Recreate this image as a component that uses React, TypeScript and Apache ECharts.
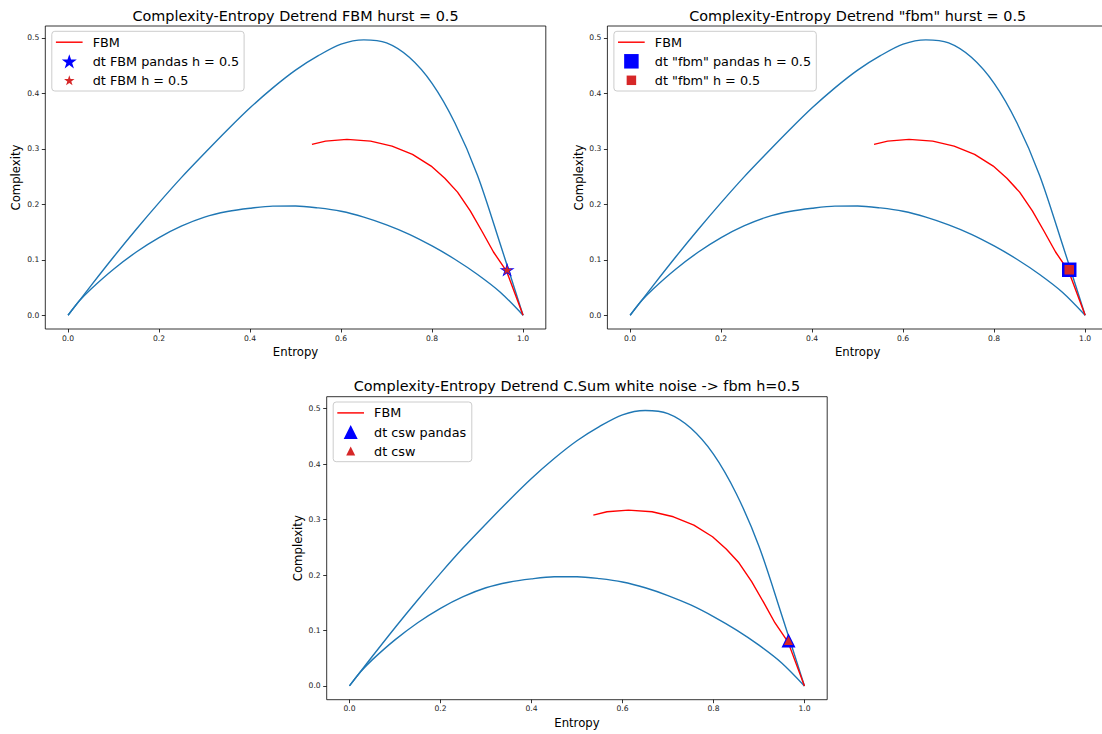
import React, { useEffect, useRef } from 'react';
import * as echarts from 'echarts';

// ---- data ----
const upperH = [0, 0.05, 0.1, 0.15, 0.2, 0.25, 0.3, 0.35, 0.4, 0.45, 0.5, 0.55, 0.6, 0.65, 0.7, 0.75, 0.8, 0.85, 0.9, 0.95, 1.0];
const upperC = [0, 0.053, 0.105, 0.155, 0.203, 0.249, 0.292, 0.334, 0.374, 0.41, 0.442, 0.468, 0.4888, 0.4965, 0.491, 0.465, 0.418, 0.347, 0.252, 0.128, 0];
const lowerH = [0, 0.025, 0.05, 0.1, 0.15, 0.2, 0.25, 0.3, 0.35, 0.4, 0.45, 0.5, 0.55, 0.6, 0.65, 0.7, 0.75, 0.8, 0.85, 0.9, 0.95, 1.0];
const lowerC = [0, 0.026, 0.047, 0.083, 0.114, 0.14, 0.161, 0.177, 0.187, 0.193, 0.1968, 0.197, 0.1935, 0.1875, 0.177, 0.163, 0.146, 0.125, 0.101, 0.0735, 0.0415, 0];
const fbmH = [0.536, 0.566, 0.613, 0.665, 0.712, 0.757, 0.798, 0.828, 0.856, 0.884, 0.91, 0.935, 0.964, 1.0];
const fbmC = [0.308, 0.314, 0.317, 0.314, 0.305, 0.29, 0.269, 0.247, 0.222, 0.188, 0.151, 0.114, 0.079, 0.0];
const dtH = [0.965];
const dtC = [0.082];
const xTicks = [0, 0.2, 0.4, 0.6, 0.8, 1.0];
const yTicks = [0, 0.1, 0.2, 0.3, 0.4, 0.5];
const titles = [
  'Complexity-Entropy Detrend FBM hurst = 0.5',
  'Complexity-Entropy Detrend "fbm" hurst = 0.5',
  'Complexity-Entropy Detrend C.Sum white noise -> fbm h=0.5',
];
const lineName = 'FBM';
const blueNames = ['dt FBM pandas h = 0.5', 'dt "fbm" pandas h = 0.5', 'dt csw pandas'];
const redNames = ['dt FBM h = 0.5', 'dt "fbm" h = 0.5', 'dt csw'];

// ---- layout / style ----
const FONT = '"DejaVu Sans", "Liberation Sans", sans-serif';
const STAR = 'path://M0,-1L0.2245,-0.309L0.951,-0.309L0.3633,0.118L0.5878,0.809L0,0.382L-0.5878,0.809L-0.3633,0.118L-0.951,-0.309L-0.2245,-0.309Z';
const LINE_ICON = 'path://M0,0L26,0L26,1.4L0,1.4Z';
const GW = 500.5;
const GH = 303;
const grids = [
  { left: 45.3, top: 26 },
  { left: 607.4, top: 26 },
  { left: 326.7, top: 396.7 },
];
const legendBoxW = [192.3, 202.4, 138.6];
const markers = [
  { sym: STAR, blue: [15, 14.3], red: [10.5, 10] },
  { sym: 'rect', blue: [14.5, 14.5], red: [9.5, 9.5] },
  { sym: 'triangle', blue: [14, 14], red: [9, 9] },
];
const rowY = [16.2, 35.3, 54.3];

function zip(a: number[], b: number[]) {
  return a.map((v, i) => [v, b[i]]);
}

function buildOption() {
  const grid: any[] = [];
  const xAxis: any[] = [];
  const yAxis: any[] = [];
  const series: any[] = [];
  const legend: any[] = [];
  const graphic: any[] = [];

  grids.forEach((g, i) => {
    grid.push({
      left: g.left, top: g.top, width: GW, height: GH,
      show: true, borderColor: '#000', borderWidth: 0.8, backgroundColor: 'transparent',
      containLabel: false, outerBoundsMode: 'none',
    });
    xAxis.push({
      type: 'value', gridIndex: i, min: -0.05, max: 1.05,
      splitLine: { show: false },
      axisLine: { show: false, onZero: false },
      axisTick: { show: true, length: 3.5, lineStyle: { color: '#000', width: 0.8 }, customValues: xTicks },
      axisLabel: { customValues: xTicks, formatter: (v: number) => v.toFixed(1), fontSize: 7.6, color: '#222', margin: 5, fontFamily: FONT },
      name: 'Entropy', nameLocation: 'middle', nameGap: 22.8, nameMoveOverlap: false,
      nameTextStyle: { fontSize: 11.7, color: '#000', fontFamily: FONT, verticalAlign: 'middle' },
    });
    yAxis.push({
      type: 'value', gridIndex: i, min: -0.0248, max: 0.5215,
      splitLine: { show: false },
      axisLine: { show: false, onZero: false },
      axisTick: { show: true, length: 3.5, lineStyle: { color: '#000', width: 0.8 }, customValues: yTicks },
      axisLabel: { customValues: yTicks, formatter: (v: number) => v.toFixed(1), fontSize: 7.6, color: '#222', margin: 6, fontFamily: FONT },
      name: 'Complexity', nameLocation: 'middle', nameGap: 28.9, nameMoveOverlap: false,
      nameTextStyle: { fontSize: 11.7, color: '#000', fontFamily: FONT, verticalAlign: 'middle' },
    });

    const common = { xAxisIndex: i, yAxisIndex: i, silent: true, animation: false };
    series.push({
      ...common, type: 'line', name: 'Cmax', data: zip(upperH, upperC), symbol: 'none',
      smooth: 0.3, lineStyle: { color: '#1f77b4', width: 1.4 },
    });
    series.push({
      ...common, type: 'line', name: 'Cmin', data: zip(lowerH, lowerC), symbol: 'none',
      smooth: 0.3, lineStyle: { color: '#1f77b4', width: 1.4 },
    });
    series.push({
      ...common, type: 'line', name: lineName, data: zip(fbmH, fbmC), symbol: 'none',
      itemStyle: { color: '#ff0000' }, lineStyle: { color: '#ff0000', width: 1.4 },
    });
    const m = markers[i];
    series.push({
      ...common, type: 'scatter', name: blueNames[i], data: zip(dtH, dtC),
      symbol: m.sym, symbolSize: m.blue, symbolKeepAspect: true,
      itemStyle: { color: '#0000ff', opacity: 1 }, z: 3,
    });
    series.push({
      ...common, type: 'scatter', name: redNames[i], data: zip(dtH, dtC),
      symbol: m.sym, symbolSize: m.red, symbolKeepAspect: true,
      itemStyle: { color: '#d62728', opacity: 1 }, z: 4,
    });

    // legend box
    graphic.push({
      type: 'rect', z: 10,
      shape: { x: g.left + 6.5, y: g.top + 5.3, width: legendBoxW[i], height: 59.7, r: 3 },
      style: { fill: 'rgba(255,255,255,0.8)', stroke: '#cccccc', lineWidth: 1 },
    });
    const baseLegend = {
      show: true, selectedMode: false, orient: 'horizontal', padding: 0, itemGap: 0, z: 20,
    };
    const ts = (padL: number) => ({ fontSize: 12.8, fontFamily: FONT, color: '#000', lineHeight: 16, padding: [0, 0, 0, padL] });
    // row 1: line
    legend.push({
      ...baseLegend, left: g.left + 10.6, top: g.top + rowY[0] - 8,
      itemWidth: 26.7, itemHeight: 14, data: [{ name: lineName, icon: LINE_ICON }], textStyle: ts(5.1),
    });
    // row 2, 3: markers
    [m.blue, m.red].forEach((sz, k) => {
      const S = sz[1];
      const W = sz[0];
      legend.push({
        ...baseLegend, left: g.left + 24 - W / 2, top: g.top + rowY[k + 1] - 8,
        itemWidth: W, itemHeight: S, data: [k === 0 ? blueNames[i] : redNames[i]],
        textStyle: ts(47.4 - 5 - W - (24 - W / 2)),
      });
    });

    // title
    graphic.push({
      type: 'text', z: 30, x: g.left + GW / 2, y: g.top - 10.5,
      style: {
        text: titles[i], font: `14.4px ${FONT}`, fill: '#000',
        textAlign: 'center', textVerticalAlign: 'middle', align: 'center', verticalAlign: 'middle',
      },
    });
  });

  return {
    animation: false,
    backgroundColor: '#ffffff',
    grid, xAxis, yAxis, series, legend, graphic,
  };
}

export default function App() {
  const ref = useRef<HTMLDivElement>(null);
  useEffect(() => {
    if (!ref.current) return;
    const chart = echarts.init(ref.current, undefined, { renderer: 'svg' });
    chart.setOption(buildOption() as any);
    return () => chart.dispose();
  }, []);
  return (
    <div
      ref={ref}
      style={{ position: 'absolute', left: 0, top: 0, width: 1102, height: 734, background: '#fff' }}
    />
  );
}
